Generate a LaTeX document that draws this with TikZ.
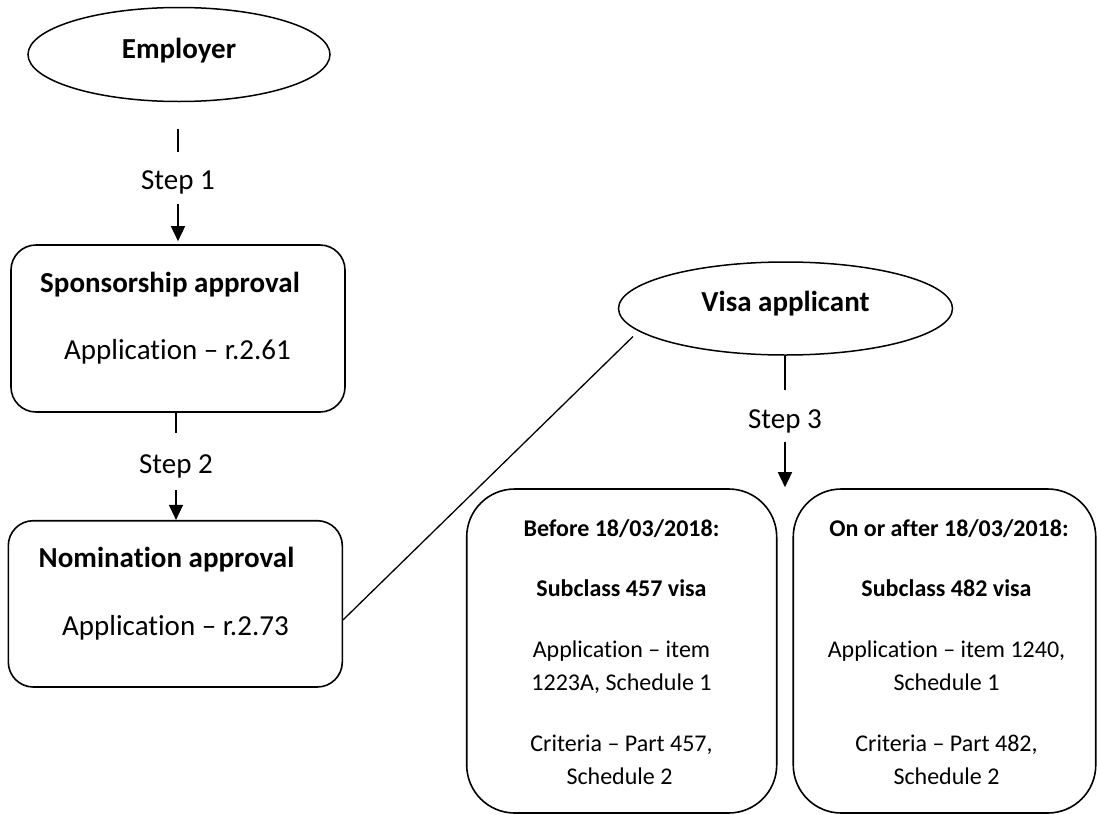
\documentclass[tikz,border=0pt]{standalone}
\usepackage{fontspec}
\setmainfont{Carlito}[Ligatures=NoCommon]
\usetikzlibrary{shapes.geometric,arrows.meta,calc}
\newcommand\stdsize{\fontsize{29}{35}\selectfont}
\newcommand\boxsize{\fontsize{24}{33}\selectfont}
\tikzset{
  actor/.style={draw, line width=1.5pt, ellipse, inner sep=0pt,
    font=\stdsize\bfseries, text height=20pt},
  stagebox/.style={draw, line width=1.6pt, rounded corners=25pt, inner sep=0pt},
  visabox/.style={draw, line width=1.6pt, rounded corners=48pt, inner sep=0pt},
  steplabel/.style={inner sep=0pt, anchor=base, font=\stdsize,
    text height=19pt, text depth=6pt},
  maintext/.style={inner sep=0pt, anchor=base, font=\stdsize},
  titletext/.style={maintext, font=\stdsize\bfseries},
  smalltext/.style={inner sep=0pt, anchor=base, font=\boxsize},
  smalltitle/.style={smalltext, font=\boxsize\bfseries},
  link/.style={line width=1.5pt},
  steparrow/.style={line width=1.5pt, -{Triangle[length=15pt,width=14pt]}},
}
\begin{document}
\begin{tikzpicture}[x=1pt, y=-1pt]
\useasboundingbox (0,0) rectangle (1097,814);

% employer side
\node[actor, minimum width=302pt, minimum height=94pt, text depth=12.4pt]
  (emp) at (179,54.5) {Employer};

\node[stagebox, minimum width=334pt, minimum height=167pt] (spon) at (178,328.5) {};
\node[titletext] (sponT) at (170,292) {Sponsorship approval};
\node[maintext] (sponA) at (177.5,359) {Application – r.2.61};

\node[stagebox, minimum width=334pt, minimum height=166.3pt] (nom) at (175.3,603.85) {};
\node[titletext] (nomT) at (166.5,567) {Nomination approval};
\node[maintext] (nomA) at (175.5,635) {Application – r.2.73};

% step 1
\node[steplabel] (s1) at (178,189.3) {Step 1};
\draw[link, shorten <=26.3pt, shorten >=18.3pt] (s1.north |- emp.south) -- (s1.north);
\draw[steparrow, shorten <=8.7pt, shorten >=3pt] (s1.south) -- (s1.south |- spon.north);

% step 2
\node[steplabel] (s2) at (176,473) {Step 2};
\draw[link, shorten >=21pt] (s2.north |- spon.south) -- (s2.north);
\draw[steparrow, shorten <=11pt] (s2.south) -- (s2.south |- nom.north);

% visa applicant side
\node[actor, minimum width=334pt, minimum height=93pt, text depth=15pt]
  (visa) at (785.5,308.5) {Visa applicant};

\node[visabox, minimum width=310pt, minimum height=324pt] (vb1) at (621.7,651) {};
\node[visabox, minimum width=302.5pt, minimum height=324pt] (vb2) at (944.5,651) {};

\node[smalltitle] (b1a) at (621.5,536) {Before 18/03/2018:};
\node[smalltitle] (b1b) at (621.5,596.5) {Subclass 457 visa};
\node[smalltext]  (b1c) at (621.5,657) {Application – item};
\node[smalltext]  (b1d) at (621.5,690) {1223A, Schedule 1};
\node[smalltext]  (b1e) at (621.5,751) {Criteria – Part 457,};
\node[smalltext]  (b1f) at (619.5,784) {Schedule 2};

\node[smalltitle] (b2a) at (949,536) {On or after 18/03/2018:};
\node[smalltitle] (b2b) at (946.5,596.5) {Subclass 482 visa};
\node[smalltext]  (b2c) at (946.5,657) {Application – item 1240,};
\node[smalltext]  (b2d) at (946.5,690) {Schedule 1};
\node[smalltext]  (b2e) at (946.5,751) {Criteria – Part 482,};
\node[smalltext]  (b2f) at (946.5,784) {Schedule 2};

% step 3
\coordinate (split) at ($(vb1.north east)!0.5!(vb2.north west)$);
\node[steplabel] (s3) at (785,428.5) {Step 3};
\draw[link, shorten >=19.5pt] (s3.north |- visa.south) -- (s3.north);
\draw[steparrow, shorten <=7.2pt, shorten >=1pt] (split |- s3.south) -- (split);

% nomination linked to the visa applicant
\draw[link, line width=1.3pt] ([yshift=-16pt]nom.east)
  -- ([xshift=-152.5pt,yshift=-28pt]visa.center);
\end{tikzpicture}
\end{document}
